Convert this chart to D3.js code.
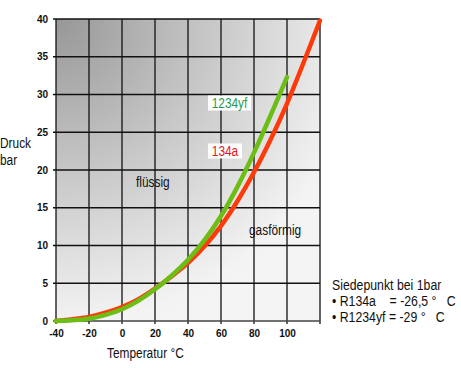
<!DOCTYPE html>
<html><head><meta charset="utf-8">
<script src="https://cdn.jsdelivr.net/npm/d3@7"></script>
<style>
html,body{margin:0;padding:0;background:#fff;}
svg{display:block;}
.nar{font-family:"Liberation Sans",Arial,sans-serif;}
.tk{font-family:"Liberation Sans",Arial,sans-serif;font-weight:bold;font-size:10px;}
</style></head><body>
<svg id="c" width="461" height="368"></svg>
<script>
// ---- data ----
const xTicks = [-40, -20, 0, 20, 40, 60, 80, 100, 120];
const xTickLabels = ["-40", "-20", "0", "20", "40", "60", "80", "100", ""];
const yTicks = [0, 5, 10, 15, 20, 25, 30, 35, 40];
const yTickLabels = ["0", "5", "10", "15", "20", "25", "30", "35", "40"];
const tempR134a = [-40, -30, -20, -10, 0, 10, 20, 30, 40, 50, 60, 70, 80, 90, 100, 110, 120];
const pressR134a = [0, 0.25, 0.55, 1.1, 1.85, 2.9, 4.3, 5.9, 7.7, 9.9, 12.6, 15.9, 19.7, 24.0, 28.8, 34.2, 39.8];
const tempR1234yf = [-40, -30, -20, -10, 0, 10, 20, 30, 40, 50, 60, 70, 80, 90, 100];
const pressR1234yf = [0, 0.1, 0.3, 0.8, 1.55, 2.7, 4.2, 6.0, 8.1, 10.7, 13.9, 17.8, 22.3, 27.2, 32.3];
const seriesNames = ["134a", "1234yf"];
const infoLines = ["Siedepunkt bei 1bar", "\u2022 R134a    = -26,5\u00a0\u00b0\u00a0\u00a0 C", "\u2022 R1234yf = -29\u00a0\u00b0\u00a0\u00a0 C"];

const svg = d3.select("#c");
const L = 56, T = 19, R = 320, B = 321;
const x = d3.scaleLinear().domain([-40, 120]).range([L, R]);
const y = d3.scaleLinear().domain([0, 40]).range([B, T]);
const NS = 0.82; // narrow font emulation

// background gradient
const defs = svg.append("defs");
const rg = defs.append("radialGradient").attr("id", "bg")
  .attr("gradientUnits", "userSpaceOnUse").attr("cx", L).attr("cy", T).attr("r", 320);
rg.append("stop").attr("offset", 0).attr("stop-color", "#979797");
rg.append("stop").attr("offset", 0.5).attr("stop-color", "#c9c9c9");
rg.append("stop").attr("offset", 0.95).attr("stop-color", "#f3f3f3");
rg.append("stop").attr("offset", 1).attr("stop-color", "#f4f4f4");
svg.append("rect").attr("x", L).attr("y", T).attr("width", R - L).attr("height", B - T).attr("fill", "url(#bg)");

// grid
const g = svg.append("g");
g.selectAll(".vg").data(xTicks).join("line")
  .attr("x1", d => x(d)).attr("x2", d => x(d)).attr("y1", T).attr("y2", B + 3)
  .attr("stroke", "#111").attr("stroke-width", 1.3);
g.selectAll(".hg").data(yTicks).join("line")
  .attr("x1", L - 3).attr("x2", R).attr("y1", d => y(d)).attr("y2", d => y(d))
  .attr("stroke", d => d === 0 ? "#444" : "#111").attr("stroke-width", 1.3);

// axes labels via d3 axes
const ax = svg.append("g").attr("transform", `translate(0,${B})`)
  .call(d3.axisBottom(x).tickValues(xTicks).tickSize(0).tickPadding(9).tickFormat((d, i) => xTickLabels[i]));
ax.select(".domain").remove();
ax.selectAll("text").attr("class", "tk").attr("fill", "#111").style("font-size", "10px");
const ay = svg.append("g").attr("transform", `translate(${L},0)`)
  .call(d3.axisLeft(y).tickValues(yTicks).tickSize(0).tickPadding(8).tickFormat((d, i) => yTickLabels[i]));
ay.select(".domain").remove();
ay.selectAll("text").attr("class", "tk").attr("fill", "#111").style("font-size", "10px");

// curves
const line = d3.line().x(d => x(d[0])).y(d => y(d[1])).curve(d3.curveCatmullRom.alpha(0.5));
svg.append("path").datum(tempR134a.map((t, i) => [t, pressR134a[i]]))
  .attr("d", line).attr("fill", "none").attr("stroke", "#ff3a0a").attr("stroke-width", 4.5)
  .attr("stroke-linecap", "round");
svg.append("path").datum(tempR1234yf.map((t, i) => [t, pressR1234yf[i]]))
  .attr("d", line).attr("fill", "none").attr("stroke", "#6cbd14").attr("stroke-width", 4.5)
  .attr("stroke-linecap", "round");

function ntext(txt, tx, ty, size, col, anchor) {
  return svg.append("text").attr("class", "nar")
    .attr("transform", `translate(${tx},${ty}) scale(${NS},1)`)
    .attr("text-anchor", anchor || "start").attr("fill", col || "#111")
    .style("font-size", size + "px").style("white-space", "pre").text(txt);
}

// series labels with white boxes
function boxLabel(txt, bx, by, bw, bh, col) {
  svg.append("rect").attr("x", bx).attr("y", by).attr("width", bw).attr("height", bh).attr("fill", "#fff");
  ntext(txt, bx + bw / 2, by + bh - 2.5, 14.5, col, "middle");
}
boxLabel(seriesNames[1], 208, 95.5, 43, 15, "#1f9a4e");
boxLabel(seriesNames[0], 208, 143.5, 34, 15, "#e3141b");

// region labels
ntext("flüssig", 136, 187, 14.5);
ntext("gasförmig", 249, 235, 14.5);

// axis titles
ntext("Druck", 0, 148, 14.5);
ntext("bar", 0, 165, 14.5);
ntext("Temperatur °C", 107, 358, 14.5);

// info text
infoLines.forEach((d, i) => ntext(d, 332, 290 + i * 16, 15));
</script>
</body></html>
